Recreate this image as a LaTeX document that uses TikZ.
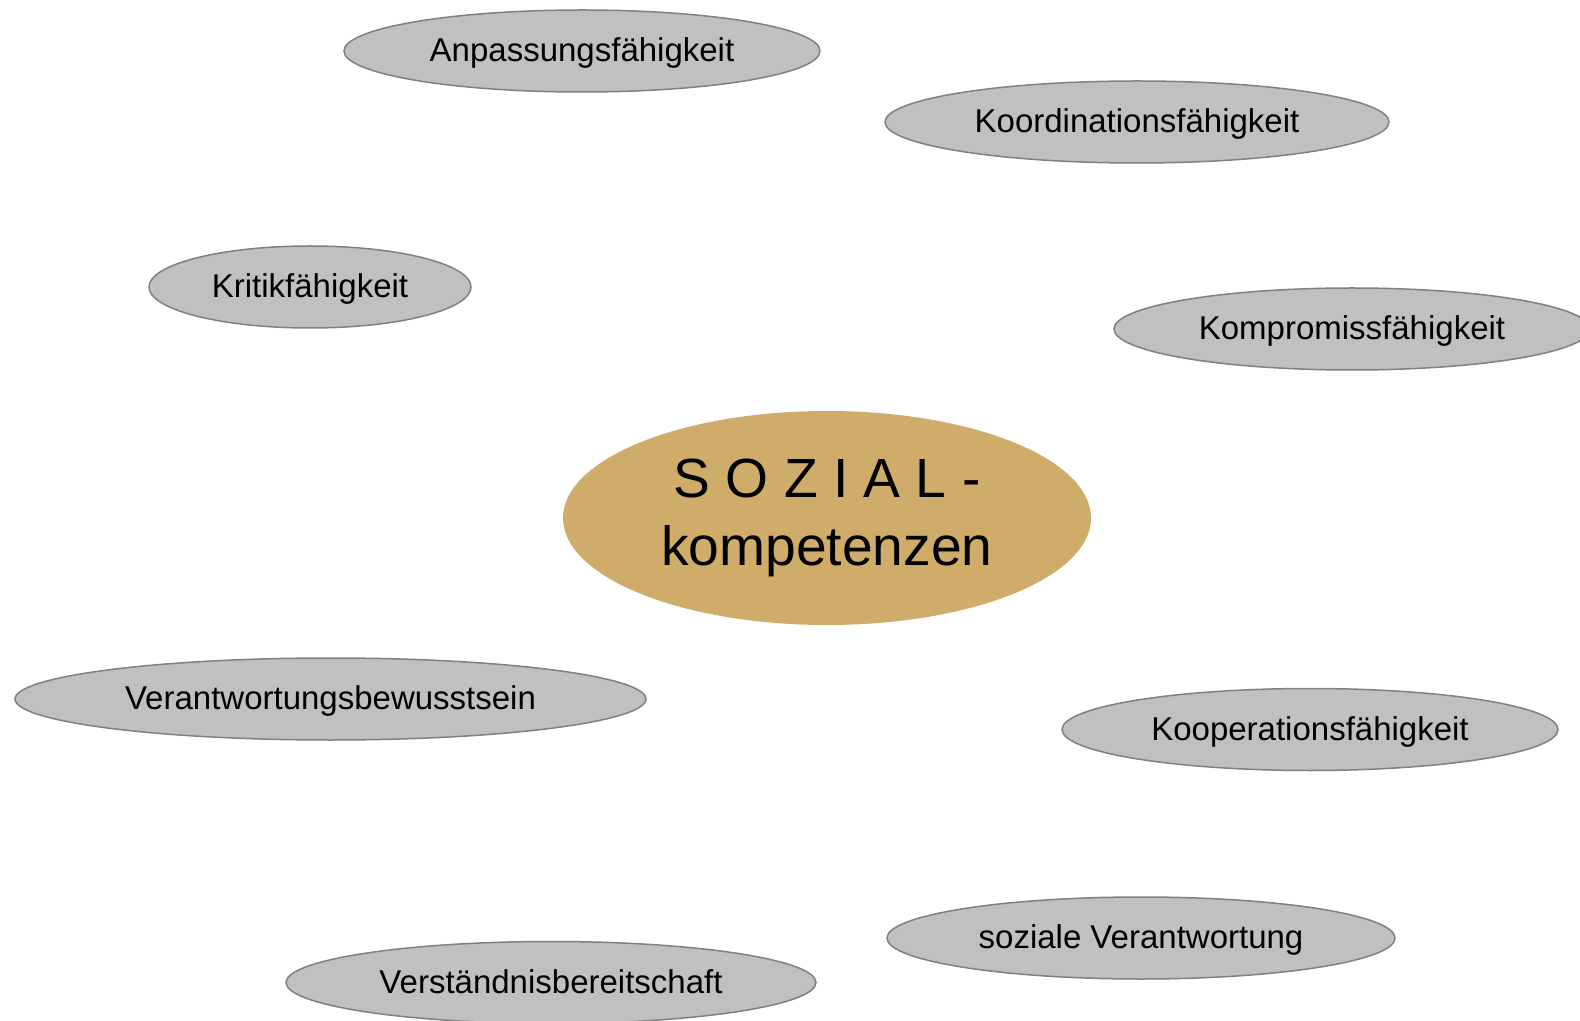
\documentclass[tikz,border=0pt]{standalone}
\usepackage{fontspec}
\setmainfont{Liberation Sans}
\usetikzlibrary{shapes.geometric}
\definecolor{bubblefill}{RGB}{192,192,192}
\definecolor{bubbleline}{RGB}{128,128,128}
\definecolor{corefill}{RGB}{208,172,107}
\begin{document}
\begin{tikzpicture}[x=0.5pt,y=-0.5pt,
  bubble/.style={ellipse, fill=bubblefill, draw=bubbleline, line width=0.75pt,
    inner sep=0pt, minimum height=41pt, text height=14pt, text depth=3.5pt,
    font=\fontsize{16.5}{19}\selectfont},
  core/.style={ellipse, fill=corefill, draw=none, inner sep=0pt,
    minimum width=264pt, minimum height=107pt,
    font=\fontsize{27.6}{33.8}\selectfont}]
\useasboundingbox (0,0) rectangle (1580,1021);
\fill[white] (0,0) rectangle (1580,1021);
\begin{scope}
\clip (0,0) rectangle (1580,1021);
\node[core] (core) at (827,518)
  {\raisebox{-2.5pt}{\begin{tabular}{@{}c@{}}S O Z I A L -\\kompetenzen\end{tabular}}};
\node[bubble, minimum width=238pt] (anp) at (582,51) {Anpassungsfähigkeit};
\node[bubble, minimum width=252pt] (koord) at (1137,122) {Koordinationsfähigkeit};
\node[bubble, minimum width=161pt] (krit) at (310,287) {Kritikfähigkeit};
\node[bubble, minimum width=238pt] (komp) at (1352,329) {Kompromissfähigkeit};
\node[bubble, minimum width=315.5pt] (verb) at (330.5,699) {Verantwortungsbewusstsein};
\node[bubble, minimum width=248pt] (koop) at (1310,729.5) {Kooperationsfähigkeit};
\node[bubble, minimum width=254pt] (sozv) at (1141,938) {soziale Verantwortung};
\node[bubble, minimum width=265pt] (vers) at (551,982.5) {Verständnisbereitschaft};
\end{scope}
\end{tikzpicture}
\end{document}
